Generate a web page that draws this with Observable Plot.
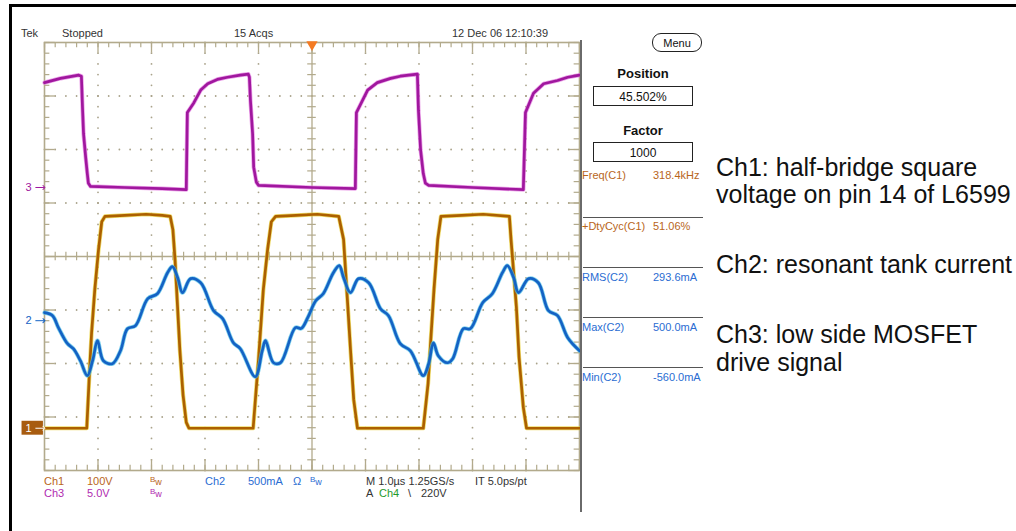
<!DOCTYPE html>
<html><head><meta charset="utf-8">
<script src="https://cdn.jsdelivr.net/npm/d3@7"></script>
<script src="https://cdn.jsdelivr.net/npm/@observablehq/plot@0.6"></script>
<style>
html,body{margin:0;padding:0;background:#fff;}
#wrap{position:relative;width:1016px;height:531px;overflow:hidden;font-family:"Liberation Sans",Arial,Helvetica,sans-serif;}
#wrap svg{position:absolute;left:0;top:0;}
.t{position:absolute;white-space:nowrap;}
.hl{position:absolute;background:#555;}
.box{position:absolute;border:1px solid #222;box-sizing:border-box;}
</style></head><body><div id="wrap"></div>
<script>
// ---------------- DATA (time in µs, channel values in physical units) ----------------
// Ch1: half-bridge voltage [µs, V]
const ch1Trace = [[0,0],[0.79,0],[0.84,103],[0.88,178],[0.94,259],[1.01,334],[1.07,386],[1.13,396],[1.5,398],[1.9,400],[2.2,398],[2.35,396],
 [2.40,371],[2.44,315],[2.48,240],[2.53,146],[2.59,62],[2.65,11],[2.70,0],[3.3,0],[3.90,0],[4.00,128],[4.09,259],[4.17,334],[4.24,386],[4.32,396],
 [4.7,398],[5.1,400],[5.50,396],[5.59,353],[5.67,227],[5.72,146],[5.78,53],[5.85,0],[6.5,0],[7.08,0],[7.17,84],[7.22,165],[7.28,259],[7.35,353],[7.41,396],
 [7.8,398],[8.2,400],[8.69,396],[8.72,353],[8.82,227],[8.87,133],[8.95,39],[9.01,0],[9.5,0],[10,0]];
// Ch2: resonant tank current [µs, mA]
const ch2Trace = [[0,75],[0.15,47],[0.26,-65],[0.43,-215],[0.54,-262],[0.67,-374],[0.80,-514],[0.90,-374],[0.99,-187],[1.10,-374],[1.27,-402],[1.42,-281],
 [1.55,-75],[1.70,-47],[1.93,206],[2.11,252],[2.30,449],[2.39,505],[2.49,402],[2.58,262],[2.73,393],[2.92,355],[3.16,94],[3.33,19],[3.53,-206],[3.66,-262],
 [3.94,-524],[4.07,-281],[4.13,-187],[4.28,-393],[4.41,-393],[4.69,-65],[4.80,-72],[4.92,28],[5.07,187],[5.21,252],[5.40,449],[5.51,514],[5.59,402],
 [5.72,262],[5.87,393],[6.06,355],[6.28,112],[6.43,47],[6.65,-215],[6.84,-281],[7.08,-514],[7.18,-402],[7.27,-206],[7.36,-327],[7.53,-393],[7.63,-355],
 [7.83,-75],[7.96,-75],[8.19,168],[8.37,252],[8.56,449],[8.65,514],[8.77,402],[8.86,262],[9.05,393],[9.23,355],[9.42,94],[9.59,47],[9.78,-159],[10,-281]];
// Ch3: low-side MOSFET drive [µs, V]
const ch3Trace = [[0,9.8],[0.30,10.2],[0.64,10.5],[0.69,10.4],[0.71,7.5],[0.73,5.0],[0.77,2.8],[0.80,1.3],[0.82,0.4],[0.86,0.1],[1.5,0],[2.2,-0.1],[2.65,-0.2],
 [2.67,7.0],[2.79,7.9],[2.92,9.1],[3.05,9.7],[3.23,10.1],[3.42,10.3],[3.66,10.5],[3.81,10.6],[3.83,10.3],[3.85,8.1],[3.89,5.0],[3.91,1.9],[3.96,0.5],[4.00,0.2],
 [5.0,0],[5.81,-0.1],[5.83,7.0],[6.04,9.1],[6.22,9.8],[6.47,10.2],[6.65,10.4],[6.97,10.6],[6.99,7.2],[7.03,3.5],[7.08,1.3],[7.12,0.4],[7.18,0.2],
 [8.0,0],[8.95,-0.2],[8.99,7.0],[9.14,8.8],[9.33,9.7],[9.59,10.0],[9.78,10.3],[10,10.5]];

// channel settings: name, units per division, ground position (divisions from centre)
const channelNames   = ["1", "2", "3"];
const channelPerDiv  = [100, 500, 5.0];
const channelGround  = [-3.21, -1.20, 1.29];
const channelColors  = ["#ac6000", "#1462c4", "#a0179e"];
const channelHalos   = ["#e8cf2e", "#49bde6", "#e27ae0"];
const channelCurves  = ["linear", "catmull-rom", "linear"];
const traces = [ch1Trace, ch2Trace, ch3Trace];

// readouts
const measureLabels = ["Freq(C1)", "+DtyCyc(C1)", "RMS(C2)", "Max(C2)", "Min(C2)"];
const measureValues = ["318.4kHz", "51.06%", "293.6mA", "500.0mA", "-560.0mA"];
const annotations = [["Ch1: half-bridge square", "voltage on pin 14 of L6599"], ["Ch2: resonant tank current"], ["Ch3: low side MOSFET", "drive signal"]];

// ---------------- PLOT ----------------
const grat = "#b2aa8c";
const toDiv = (ci) => traces[ci].map(([t, v]) => ({t, d: channelGround[ci] + v / channelPerDiv[ci], ch: ci}));
const minorX = d3.range(0, 51).map(i => i / 5);
const minorY = d3.range(-20, 21).map(i => i / 5);
const majorX = d3.range(0, 11);
const majorY = d3.range(-4, 5);
const gridDots = [];
for (const gx of [1,2,3,4,6,7,8,9]) for (const y of minorY) gridDots.push({x: gx, y});
for (const gy of [-3,-2,-1,1,2,3]) for (const x of minorX) gridDots.push({x, y: gy});

const markers = channelNames.map((n, i) => ({n, y: channelGround[i], color: channelColors[i], i}));

const traceMarks = [];
for (const ci of [2, 0, 1]) {
  const data = toDiv(ci);
  traceMarks.push(Plot.line(data, {x: "t", y: "d", stroke: channelHalos[ci], strokeWidth: 4.2, strokeOpacity: 0.7, curve: channelCurves[ci]}));
  traceMarks.push(Plot.line(data, {x: "t", y: "d", stroke: channelColors[ci], strokeWidth: 2.7, curve: channelCurves[ci]}));
}

const chart = Plot.plot({
  width: 1016, height: 531,
  marginLeft: 44, marginRight: 437, marginTop: 42, marginBottom: 61,
  x: {domain: [0, 10], axis: null},
  y: {domain: [-4, 4], axis: null},
  style: {background: "transparent", overflow: "visible"},
  marks: [
    Plot.dot(gridDots, {x: "x", y: "y", r: 0.9, fill: "#a9a28a", stroke: null}),
    // centre lines
    Plot.ruleY([0], {stroke: grat, strokeWidth: 1.3}),
    Plot.ruleX([5], {stroke: grat, strokeWidth: 1.3}),
    Plot.ruleX(minorX, {y1: -0.08, y2: 0.08, stroke: grat, strokeWidth: 1.2}),
    Plot.ruleY(minorY, {x1: 4.92, x2: 5.08, stroke: grat, strokeWidth: 1.2}),
    // edge ticks
    Plot.ruleX(minorX, {y1: 4, y2: 3.9, stroke: grat, strokeWidth: 1.2}),
    Plot.ruleX(minorX, {y1: -4, y2: -3.9, stroke: grat, strokeWidth: 1.2}),
    Plot.ruleY(minorY, {x1: 0, x2: 0.1, stroke: grat, strokeWidth: 1.2}),
    Plot.ruleY(minorY, {x1: 10, x2: 9.9, stroke: grat, strokeWidth: 1.2}),
    Plot.ruleX(majorX, {y1: 4, y2: 3.8, stroke: grat, strokeWidth: 1.3}),
    Plot.ruleX(majorX, {y1: -4, y2: -3.8, stroke: grat, strokeWidth: 1.3}),
    Plot.ruleY(majorY, {x1: 0, x2: 0.2, stroke: grat, strokeWidth: 1.3}),
    Plot.ruleY(majorY, {x1: 10, x2: 9.8, stroke: grat, strokeWidth: 1.3}),
    Plot.frame({stroke: grat, strokeWidth: 1.6}),
    ...traceMarks,
    // trigger position marker
    Plot.dot([5], {x: d => d, y: () => 4, symbol: "triangle", rotate: 180, r: 4.2, fill: "#f47a22", stroke: null, dy: 2}),
    // channel ground markers
    Plot.rect(markers.filter(m => m.n === "1"), {x1: -0.42, x2: -0.02, y1: d => d.y - 0.13, y2: d => d.y + 0.13, fill: "#a85c10"}),
    Plot.link(markers, {x1: -0.17, x2: -0.01, y1: "y", y2: "y", stroke: d => d.n === "1" ? "#fff" : d.color, strokeWidth: 1, markerEnd: "arrow"}),
    Plot.text(markers, {x: 0, y: "y", text: "n", dx: -13, fill: d => d.n === "1" ? "#fff" : d.color, fontSize: 11, textAnchor: "end", fontFamily: "Liberation Sans, Arial, sans-serif"})
  ]
});
const wrap = document.getElementById("wrap");
wrap.appendChild(chart);

// ---------------- TEXT / PANEL ----------------
function addText(html, x, base, o = {}) {
  const size = o.size || 11;
  const d = document.createElement("div");
  d.className = "t";
  d.innerHTML = html;
  d.style.fontSize = size + "px";
  d.style.lineHeight = size + "px";
  d.style.left = x + "px";
  d.style.top = (base - 0.85 * size) + "px";
  d.style.color = o.color || "#222";
  if (o.bold) d.style.fontWeight = "bold";
  if (o.anchor === "middle") d.style.transform = "translateX(-50%)";
  wrap.appendChild(d);
  return d;
}
function addDiv(cls, x, y, w, h, style = {}) {
  const d = document.createElement("div");
  d.className = cls;
  Object.assign(d.style, {left: x + "px", top: y + "px", width: w + "px", height: h + "px"}, style);
  wrap.appendChild(d);
  return d;
}
// outer black frame of the figure
addDiv("hl", 9, 4, 1007, 3, {background: "#000"});
addDiv("hl", 9, 4, 3, 527, {background: "#000"});
// scope screen divider
addDiv("hl", 580, 40, 1.5, 472, {background: "#6a6a6a"});

// header
const c1 = "#b8651a", c2 = "#2a6cd2", c3 = "#b02cb0", cDark = "#333";
addText("Tek", 21, 37, {color: cDark});
addText("Stopped", 62, 37, {color: cDark});
addText("15 Acqs", 234, 37, {color: cDark});
addText("12 Dec 06 12:10:39", 452, 37, {color: cDark});

// footer
const bw = () => `<span style="font-size:8px;position:relative;top:-3px">B</span><span style="font-size:9px">w</span>`;
addText("Ch1", 44, 485, {color: c1});
addText("100V", 87, 485, {color: c1});
addText(bw(), 150, 485, {color: c1});
addText("Ch2", 205, 485, {color: c2});
addText("500mA", 248, 485, {color: c2});
addText("Ω", 293, 485, {color: c2});
addText(bw(), 310, 485, {color: c2});
addText("M 1.0µs 1.25GS/s", 366, 485, {color: cDark});
addText("IT 5.0ps/pt", 475, 485, {color: cDark});
addText("Ch3", 44, 497, {color: c3});
addText("5.0V", 87, 497, {color: c3});
addText(bw(), 150, 497, {color: c3});
addText("A", 366, 497, {color: cDark});
addText("Ch4", 379, 497, {color: "#1f9a2a"});
addText("\\", 408, 497, {color: cDark});
addText("220V", 421, 497, {color: cDark});

// right panel
addDiv("box", 652, 33, 50, 19, {borderRadius: "9px", border: "1.3px solid #222"});
addText("Menu", 677, 47, {anchor: "middle", color: "#111"});
addText("Position", 643, 78, {anchor: "middle", bold: true, size: 13, color: "#111"});
addDiv("box", 593, 86, 100, 20);
addText("45.502%", 643, 101, {anchor: "middle", size: 12, color: "#111"});
addText("Factor", 643, 135, {anchor: "middle", bold: true, size: 13, color: "#111"});
addDiv("box", 593, 142, 100, 20);
addText("1000", 643, 157, {anchor: "middle", size: 12, color: "#111"});
const measBase = [179, 230, 281, 331, 381];
const measCol = [c1, c1, c2, c2, c2];
measureLabels.forEach((m, i) => {
  addText(m, 582, measBase[i], {color: measCol[i]});
  addText(measureValues[i], 653, measBase[i], {color: measCol[i]});
});
[217, 267, 317, 367].forEach(y => addDiv("hl", 583, y, 120, 1.3, {background: "#555"}));

// annotations
const annBase = [[176, 203], [273], [343, 371]];
annotations.forEach((lines, i) => lines.forEach((s, j) => addText(s, 716, annBase[i][j], {size: 25, color: "#111"})));
</script>
</body></html>
